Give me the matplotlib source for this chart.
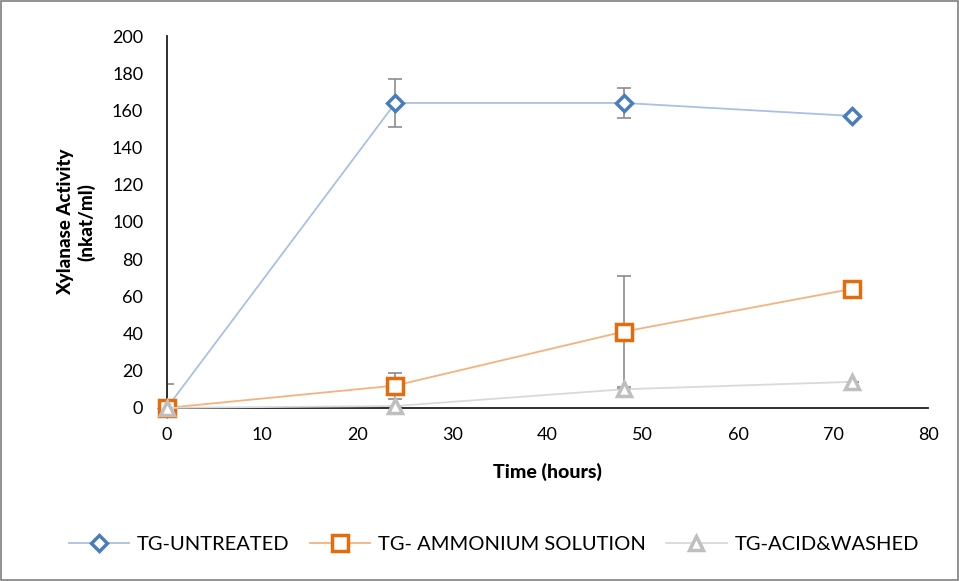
import matplotlib
matplotlib.use("Agg")
import matplotlib.pyplot as plt
from matplotlib.patches import Rectangle

plt.rcParams['font.family'] = ['Lato', 'DejaVu Sans']

time = [0, 24, 48, 72]
untreated = [0, 164, 164, 157]
untreated_err = [13, 13, 8, 0]
ammonium = [0, 12, 41, 64]
ammonium_err = [0, 7, 30, 0]
acid = [0, 1, 10, 14]
acid_err = [0, 0, 0, 0]
labels = ["TG-UNTREATED", "TG- AMMONIUM SOLUTION", "TG-ACID&WASHED"]

fig = plt.figure(figsize=(9.59, 5.81), dpi=100)
ax = fig.add_axes([0.174, 0.298, 0.794, 0.640])

err_color = '#8c8c8c'
series = [
    (untreated, untreated_err, 'D', '#4a7ebb', '#a9c1e3', 8),
    (ammonium, ammonium_err, 's', '#e46c0a', '#f5b27f', 11),
    (acid, acid_err, '^', '#bfbfbf', '#d9d9d9', 10),
]
handles = []
for (vals, errs, mk, mc, lc, ms), lab in zip(series, labels):
    ax.errorbar(time, vals, yerr=errs, fmt='none', ecolor=err_color, elinewidth=1.2,
                capsize=5, capthick=1.2, zorder=2)
    h, = ax.plot(time, vals, color=lc, lw=1.3, marker=mk, markersize=ms,
                 markerfacecolor='white', markeredgecolor=mc, markeredgewidth=2.5,
                 zorder=3, label=lab, clip_on=False)
    handles.append(h)

ax.set_xlim(0, 80)
ax.set_ylim(0, 200)
ax.set_xticks(range(0, 81, 10))
ax.set_yticks(range(0, 201, 20))
ax.tick_params(length=0, labelsize=13)
ax.tick_params(axis='x', pad=14)
ax.tick_params(axis='y', pad=17)
for s in ['top', 'right']:
    ax.spines[s].set_visible(False)
for s in ['left', 'bottom']:
    ax.spines[s].set_color('#202020')
    ax.spines[s].set_linewidth(1.3)
ax.set_xlabel('Time (hours)', fontsize=14, fontweight='black', labelpad=14)
ax.set_ylabel('Xylanase Activity\n(nkat/ml)', fontsize=13.5, fontweight='black', labelpad=12)

fig.legend(handles=handles, loc='center', bbox_to_anchor=(0.515, 0.063), ncol=3,
           frameon=False, fontsize=14.5, handlelength=3, columnspacing=1.0,
           handletextpad=0.4)

fig.patches.append(Rectangle((0.001, 0.001), 0.998, 0.998, transform=fig.transFigure,
                             fill=False, edgecolor='#7f7f7f', lw=1.2))

fig.savefig('out.png', dpi=100)
